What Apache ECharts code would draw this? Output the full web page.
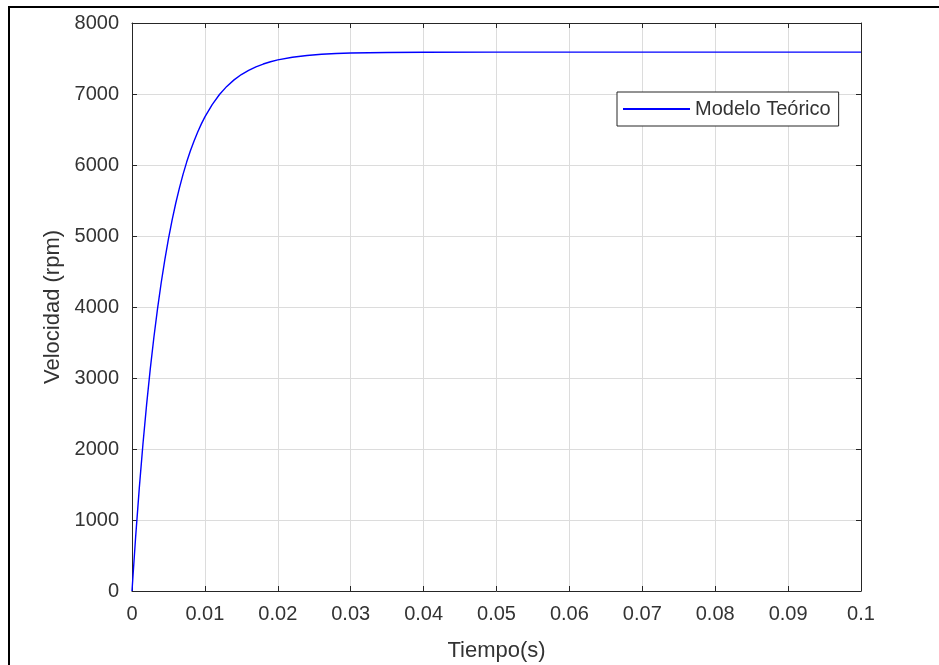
<!DOCTYPE html>
<html>
<head>
<meta charset="utf-8">
<script src="https://cdn.jsdelivr.net/npm/echarts@6/dist/echarts.min.js"></script>
<style>
  html, body { margin: 0; padding: 0; background: #ffffff; }
  #chart { width: 939px; height: 665px; }
</style>
</head>
<body>
<div id="chart"></div>
<script>
// Step response of the motor speed (theoretical model)
const timeSeconds = [
  0, 0.0005, 0.001, 0.0015, 0.002, 0.0025, 0.003, 0.0035, 0.004, 0.0045,
  0.005, 0.0055, 0.006, 0.0065, 0.007, 0.0075, 0.008, 0.0085, 0.009, 0.0095,
  0.010, 0.011, 0.012, 0.013, 0.014, 0.015, 0.016, 0.017, 0.018, 0.019,
  0.020, 0.022, 0.024, 0.026, 0.028, 0.030, 0.035, 0.040, 0.050, 0.060,
  0.070, 0.080, 0.090, 0.100
];
const speedRpm = [
  0, 763, 1449, 2067, 2622, 3121, 3570, 3974, 4338, 4665,
  4959, 5223, 5461, 5675, 5868, 6041, 6196, 6336, 6462, 6576,
  6678, 6851, 6993, 7107, 7199, 7274, 7334, 7383, 7422, 7454,
  7480, 7518, 7543, 7559, 7570, 7577, 7585, 7588, 7590, 7590,
  7590, 7590, 7590, 7590
];
const xTickLabels = ['0', '0.01', '0.02', '0.03', '0.04', '0.05', '0.06', '0.07', '0.08', '0.09', '0.1'];
const yTickLabels = ['0', '1000', '2000', '3000', '4000', '5000', '6000', '7000', '8000'];
const seriesName = 'Modelo Teórico';

const axisColor = '#262626';
const textColor = '#333333';
const gridColor = '#dcdcdc';
const fontFamily = 'Liberation Sans, Arial, Helvetica, sans-serif';

const chart = echarts.init(document.getElementById('chart'), null, { renderer: 'canvas' });

const pairs = timeSeconds.map((t, i) => [t, speedRpm[i]]);

const xLabel = v => xTickLabels[Math.round(v / 0.01)] ?? '';
const yLabel = v => yTickLabels[Math.round(v / 1000)] ?? '';

const baseX = {
  type: 'value', min: 0, max: 0.1, interval: 0.01,
  axisLine: { show: true, onZero: false, lineStyle: { color: axisColor, width: 1 } },
  axisTick: { show: true, inside: true, length: 5, lineStyle: { color: axisColor } }
};
const baseY = {
  type: 'value', min: 0, max: 8000, interval: 1000,
  axisLine: { show: true, onZero: false, lineStyle: { color: axisColor, width: 1 } },
  axisTick: { show: true, inside: true, length: 5, lineStyle: { color: axisColor } }
};

chart.setOption({
  animation: false,
  backgroundColor: '#ffffff',
  textStyle: { fontFamily: fontFamily },
  grid: { left: 132, top: 23, right: 78, bottom: 74, containLabel: false, outerBoundsMode: 'none' },
  legend: {
    data: [seriesName],
    left: 617, top: 92,
    orient: 'horizontal',
    icon: 'rect',
    itemWidth: 67, itemHeight: 2,
    padding: [7, 8, 7, 6],
    backgroundColor: '#ffffff',
    borderColor: axisColor, borderWidth: 1,
    textStyle: { color: textColor, fontSize: 20, fontFamily: fontFamily }
  },
  xAxis: [
    Object.assign({}, baseX, {
      position: 'bottom',
      name: 'Tiempo(s)', nameLocation: 'middle', nameGap: 49,
      nameTextStyle: { color: textColor, fontSize: 22, fontFamily: fontFamily },
      axisLabel: { color: textColor, fontSize: 20, margin: 13, formatter: xLabel, fontFamily: fontFamily },
      splitLine: { show: true, lineStyle: { color: gridColor, width: 1 } }
    }),
    Object.assign({}, baseX, {
      position: 'top',
      axisLabel: { show: false },
      splitLine: { show: false }
    })
  ],
  yAxis: [
    Object.assign({}, baseY, {
      position: 'left',
      name: 'Velocidad (rpm)', nameLocation: 'middle', nameGap: 68, nameRotate: 90,
      nameTextStyle: { color: textColor, fontSize: 22, fontFamily: fontFamily },
      axisLabel: { color: textColor, fontSize: 20, margin: 13, formatter: yLabel, fontFamily: fontFamily },
      splitLine: { show: true, lineStyle: { color: gridColor, width: 1 } }
    }),
    Object.assign({}, baseY, {
      position: 'right',
      axisLabel: { show: false },
      splitLine: { show: false }
    })
  ],
  series: [{
    name: seriesName,
    type: 'line',
    xAxisIndex: 0, yAxisIndex: 0,
    data: pairs,
    showSymbol: false,
    symbol: 'none',
    smooth: false,
    color: '#0000ff',
    lineStyle: { color: '#0000ff', width: 1.4 }
  }],
  graphic: [
    { type: 'line', shape: { x1: 9, y1: 7, x2: 9, y2: 665 }, style: { stroke: '#000000', lineWidth: 2 } },
    { type: 'line', shape: { x1: 8, y1: 7, x2: 939, y2: 7 }, style: { stroke: '#000000', lineWidth: 2 } }
  ]
});
</script>
</body>
</html>
